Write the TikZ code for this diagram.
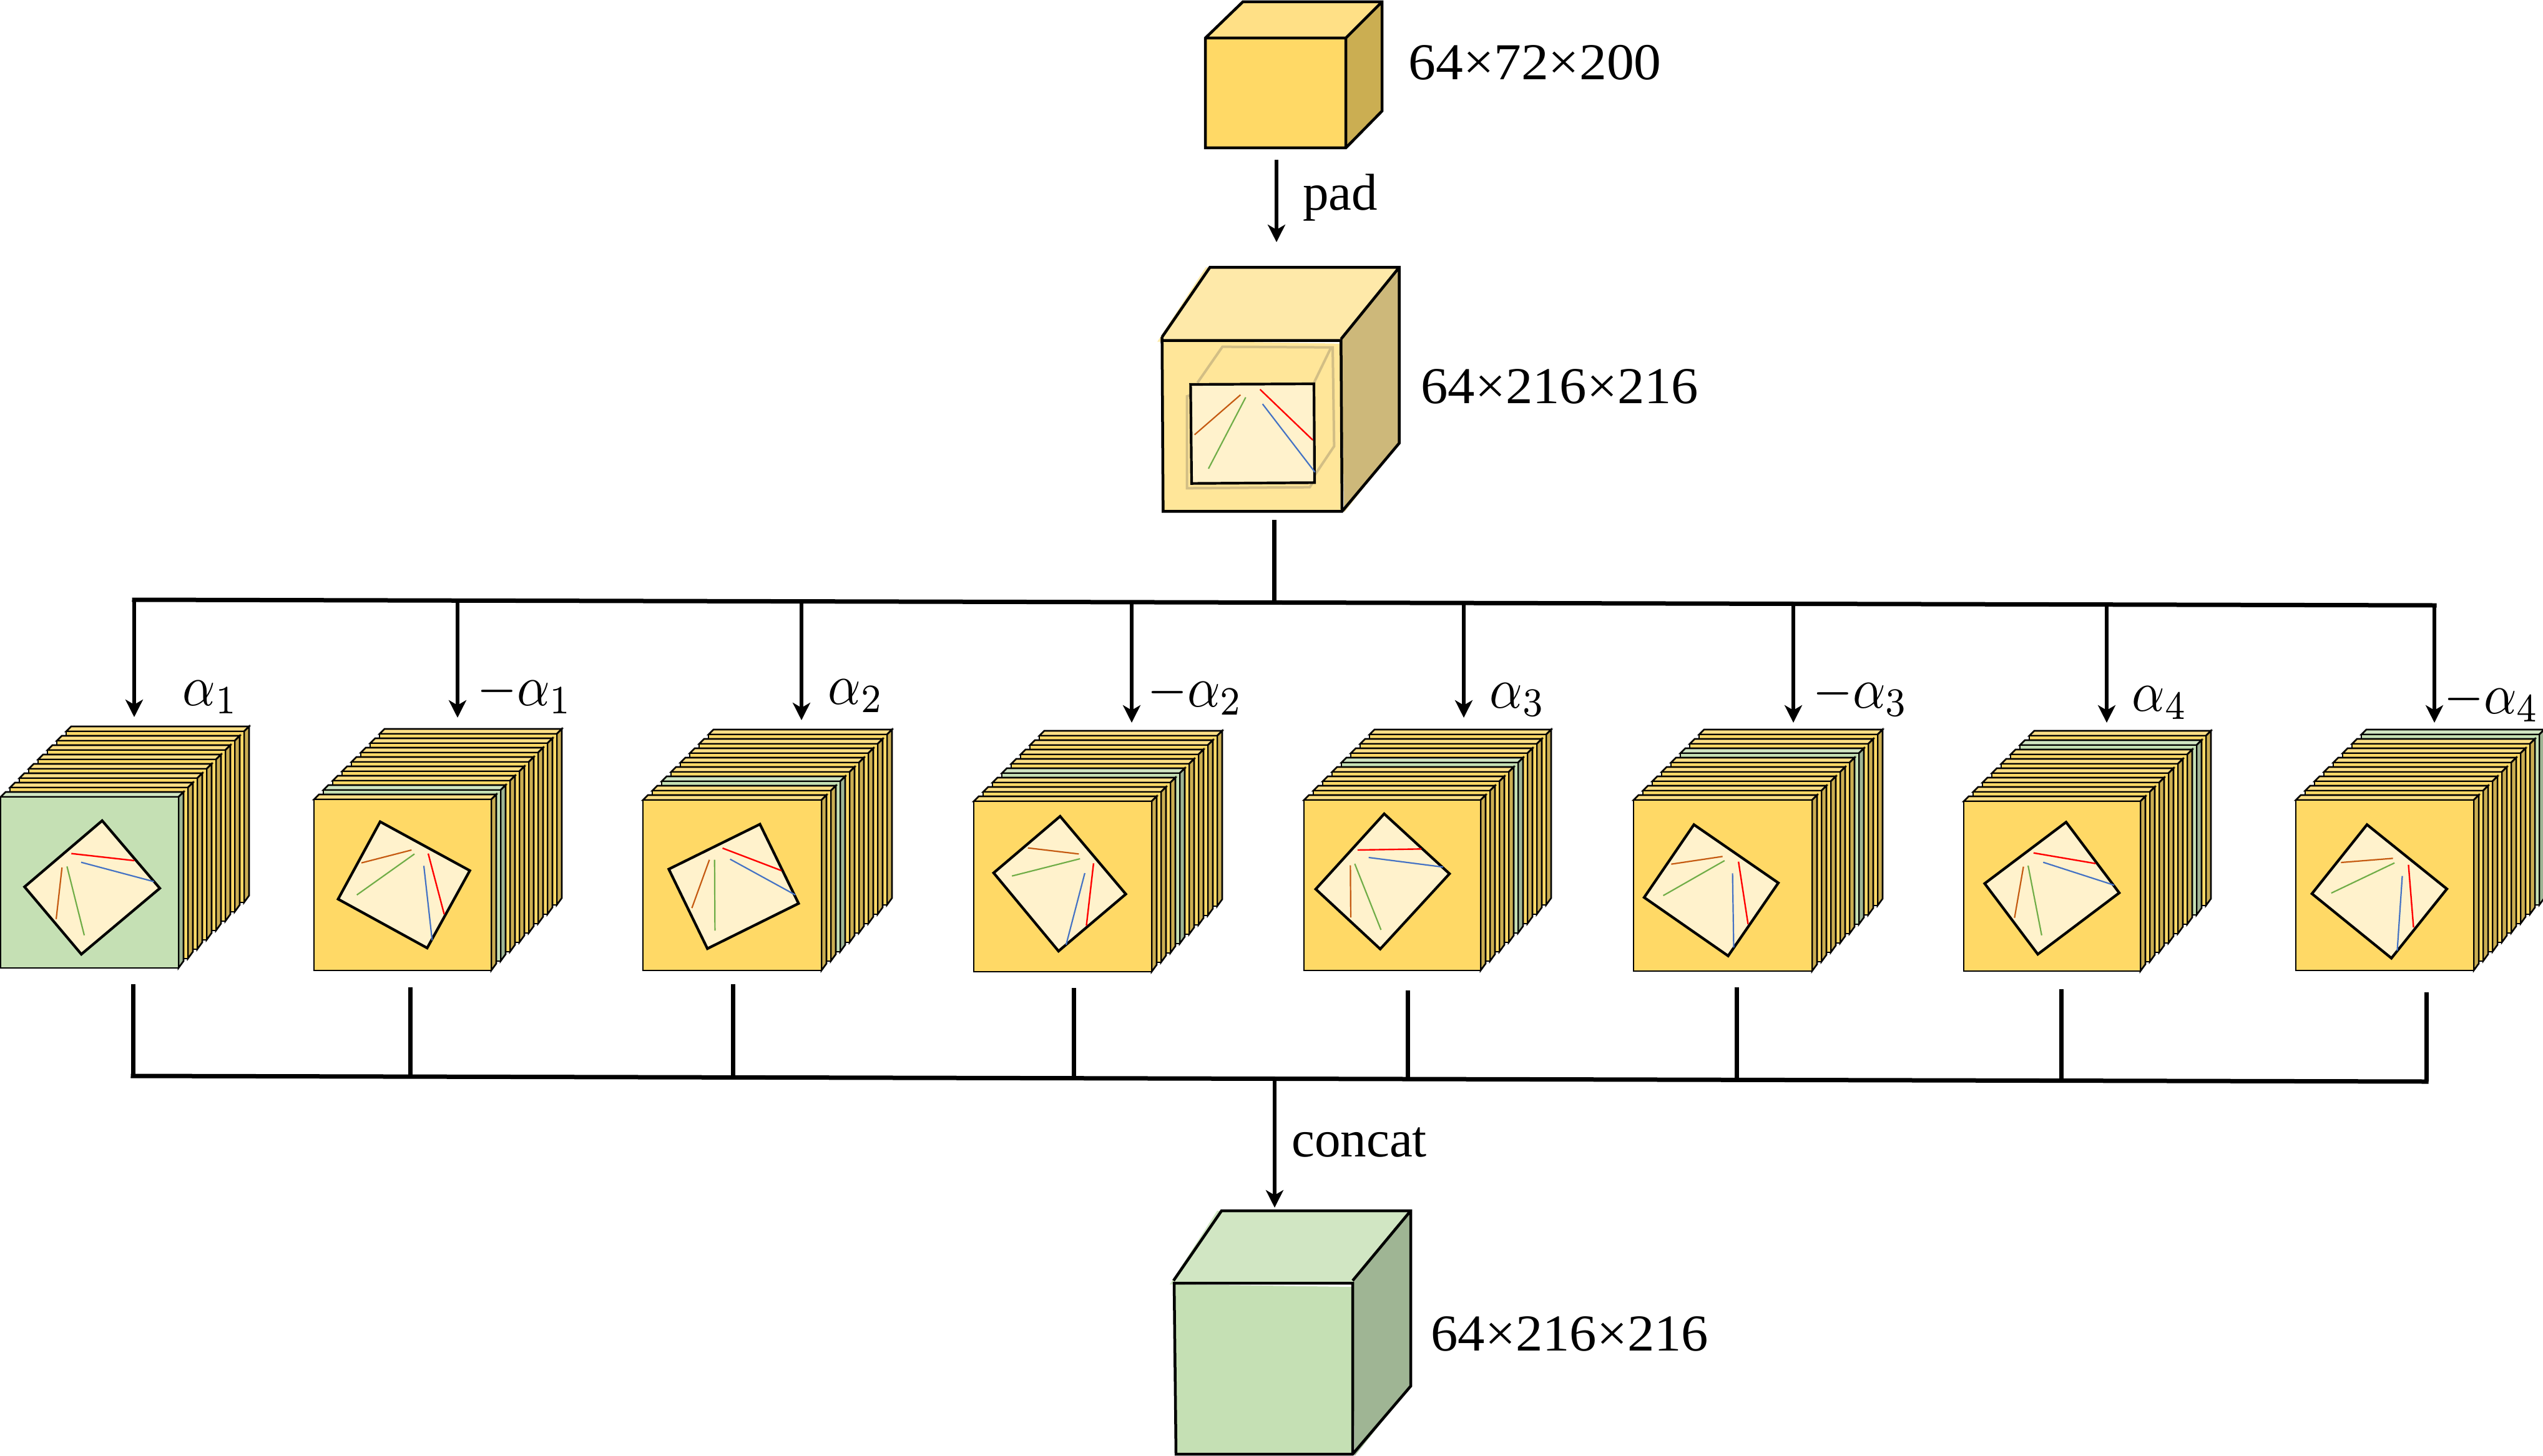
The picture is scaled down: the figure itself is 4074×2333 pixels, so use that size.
\documentclass[tikz,border=0pt]{standalone}
\usepackage{fontspec}
\setmainfont{Liberation Serif}
\usetikzlibrary{arrows.meta}
\definecolor{goldfront}{HTML}{FFD966}
\definecolor{goldtop}{HTML}{FFE086}
\definecolor{goldside}{HTML}{CBAE52}
\definecolor{leaffront}{HTML}{C5E0B4}
\definecolor{leaftop}{HTML}{D1E6C3}
\definecolor{leafside}{HTML}{9FB594}
\definecolor{palefront}{HTML}{FFE699}
\definecolor{paletop}{HTML}{FEE9A9}
\definecolor{paleside}{HTML}{CDB87A}
\definecolor{ghostline}{HTML}{D2BE85}
\definecolor{cardfill}{HTML}{FFF2CC}
\definecolor{lnred}{HTML}{FF0000}
\definecolor{lnblue}{HTML}{4472C4}
\definecolor{lnorange}{HTML}{C55A11}
\definecolor{lngreen}{HTML}{70AD47}
\tikzset{
  edgeline/.style={draw=black,line width=2.25pt,line join=miter},
  plateline/.style={draw=black,line width=1.3pt,line join=miter},
  cardbox/.style={draw=black,fill=cardfill,line width=2.1pt,line join=miter},
  redline/.style={draw=lnred,line width=1.2pt},
  blueline/.style={draw=lnblue,line width=1.1pt},
  orangeline/.style={draw=lnorange,line width=1.1pt},
  greenline/.style={draw=lngreen,line width=1.1pt},
  busline/.style={draw=black,line width=3.5pt,line cap=rect},
  stubline/.style={draw=black,line width=3.5pt},
  flowarrow/.style={draw=black,line width=3.2pt,-{Stealth[length=14pt,width=14pt,inset=4pt]}},
  sizelabel/.style={anchor=base west,inner sep=0pt,font=\fontsize{41.5}{50}\selectfont},
  anglelabel/.style={anchor=base west,inner sep=0pt,xscale=4.1,yscale=4.6},
  z1/.style={shift={(0,1130)},xscale=0.33333,yscale=0.33333},
  z2/.style={shift={(480,1130)},xscale=0.33333,yscale=0.33333},
  z3/.style={shift={(1000,1130)},xscale=0.63776,yscale=0.33333},
  z5/.style={shift={(2060,1130)},xscale=0.63776,yscale=0.33333},
  z7/.style={shift={(3100,1130)},xscale=0.62117,yscale=0.33333},
  zp/.style={shift={(1780,400)},xscale=0.33333,yscale=0.33333},
}
% stack of eight plates: x, y, width, height, index of the green plate
\newcommand{\plates}[5]{%
  \foreach \i in {7,6,5,4,3,2,1,0}{%
    \ifnum\i=#5\relax
      \def\cf{leaffront}\def\ct{leaftop}\def\cs{leafside}%
    \else
      \def\cf{goldfront}\def\ct{goldtop}\def\cs{goldside}%
    \fi
    \pgfmathsetmacro{\px}{#1+15*\i}
    \pgfmathsetmacro{\py}{#2-15*\i}
    \begin{scope}[shift={(\px,\py)}]
      \draw[plateline,fill=\ct] (0,0) -- (8,-8) -- (#3+8,-8) -- (#3,0) -- cycle;
      \draw[plateline,fill=\cs] (#3,0) -- (#3+8,-8) -- (#3+8,#4-11) -- (#3,#4) -- cycle;
      \draw[plateline,fill=\cf] (0,0) rectangle (#3,#4);
    \end{scope}
  }%
}
\newcommand{\tiltcard}[6]{%
  \begin{scope}[#1]
    \draw[cardbox] #2 -- cycle;
    \draw[redline] #3;
    \draw[blueline] #4;
    \draw[orangeline] #5;
    \draw[greenline] #6;
  \end{scope}%
}
\begin{document}
\begin{tikzpicture}[x=0.5pt,y=-0.5pt]
\useasboundingbox (0,0) rectangle (4074,2333);

% top cube
\fill[goldtop] (1931,61) -- (1991,3) -- (2214,3) -- (2156,61) -- cycle;
\fill[goldside] (2156,61) -- (2214,3) -- (2214,178) -- (2156,237) -- cycle;
\fill[goldfront] (1931,61) rectangle (2156,237);
\draw[edgeline] (1931,61) -- (1991,3) -- (2214,3) -- (2214,178) -- (2156,237) -- (1931,237) -- cycle
  (1931,61) -- (2156,61) -- (2156,237) (2156,61) -- (2214,3);
\node[sizelabel,xscale=1.055] (topsize) at (2256,128) {64×72×200};

% pad arrow
\coordinate (padstart) at (2045,256);
\coordinate (padend) at (2045,388);
\draw[flowarrow] (padstart) -- (padend);
\node[sizelabel] (padlabel) at (2087,336) {pad};

% padded cube
\begin{scope}[zp]
  \fill[paletop] (222,443) -- (455,85) -- (1385,85) -- (1105,437) -- cycle;
  \fill[paleside] (1105,430) -- (1385,85) -- (1385,930) -- (1120,1262) -- cycle;
  \fill[palefront] (248,437) -- (1100,452) -- (1108,1258) -- (250,1258) -- cycle;
  \draw[draw=ghostline,line width=2pt,line join=miter]
    (415,640) -- (535,467) -- (1065,470) -- (1072,945) -- (978,1085)
    (1055,475) -- (975,640)
    (380,700) -- (365,705) -- (365,1147) -- (955,1142) -- (978,1105);
  \draw[edgeline] (245,420) -- (475,85) -- (1385,85) -- (1385,930) -- (1110,1258) -- (250,1258) -- (245,420) -- (245,437) -- (1105,437) -- (1110,1258)
    (1105,430) -- (1385,85);
\end{scope}
\tiltcard{zp}{(382,648) -- (975,645) -- (978,1120) -- (387,1124)}{(716,672) -- (969,915)}{(728,742) -- (980,1070)}{(622,698) -- (401,890)}{(647,710) -- (468,1053)}
\node[sizelabel,xscale=1.045] (midsize) at (2276,646) {64×216×216};

% upper bus
\coordinate (padout) at (2041,833);
\coordinate (busmid) at (2041,965.5);
\coordinate (bt1) at (215,961);
\coordinate (bt2) at (733,962);
\coordinate (bt3) at (1284,963.6);
\coordinate (bt4) at (1813,964.9);
\coordinate (bt5) at (2345,966.2);
\coordinate (bt6) at (2873,967.5);
\coordinate (bt7) at (3375,968.7);
\coordinate (bt8) at (3900,970);
\coordinate (at1) at (215,1149);
\coordinate (at2) at (733,1150);
\coordinate (at3) at (1284,1154);
\coordinate (at4) at (1813,1158);
\coordinate (at5) at (2345,1150);
\coordinate (at6) at (2873,1158);
\coordinate (at7) at (3375,1158);
\coordinate (at8) at (3900,1158);
\draw[stubline] (padout) -- (busmid);
\foreach \k in {1,...,8}{\draw[flowarrow] (bt\k) -- (at\k);}
\draw[busline] (bt1) -- (bt8);

% angle labels
\node[anglelabel] (ang1) at (291,1130) {$\alpha_1$};
\node[anglelabel] (ang2) at (763,1130) {$-\alpha_1$};
\node[anglelabel] (ang3) at (1325,1128) {$\alpha_2$};
\node[anglelabel] (ang4) at (1837,1132) {$-\alpha_2$};
\node[anglelabel] (ang5) at (2385,1134) {$\alpha_3$};
\node[anglelabel] (ang6) at (2903,1134) {$-\alpha_3$};
\node[anglelabel] (ang7) at (3414,1139) {$\alpha_4$};
\node[anglelabel] (ang8) at (3914,1143) {$-\alpha_4$};

% stacks
\plates{1}{1277}{285}{274}{0}
\tiltcard{z1}{(491,555) -- (768,880) -- (391,1197) -- (118,873)}{(343,713) -- (646,747)}{(390,755) -- (740,848)}{(298,780) -- (270,1028)}{(322,775) -- (405,1106)}
\plates{503}{1281}{284}{274}{1}
\tiltcard{z2}{(387,560) -- (818,795) -- (613,1167) -- (185,932)}{(618,713) -- (695,1005)}{(597,772) -- (637,1130)}{(297,758) -- (538,696)}{(275,912) -- (552,715)}
\plates{1030}{1282}{286}{273}{2}
\tiltcard{z3}{(341,572) -- (438,953) -- (209,1170) -- (112,788)}{(247,687) -- (395,795)}{(266,740) -- (430,912)}{(214,743) -- (170,975)}{(227,743) -- (228,1083)}
\plates{1560}{1284}{285}{273}{3}
\tiltcard{z3}{(1095,534) -- (1260,908) -- (1091,1182) -- (928,806)}{(1179,760) -- (1161,1060)}{(1157,807) -- (1110,1152)}{(1014,686) -- (1142,715)}{(974,821) -- (1145,738)}
\plates{2089}{1282}{283}{273}{4}
\tiltcard{z5}{(247,522) -- (411,810) -- (237,1172) -- (75,884)}{(180,696) -- (340,691)}{(208,732) -- (395,778)}{(162,770) -- (163,1020)}{(173,762) -- (239,1080)}
\plates{2617}{1282}{286}{274}{5}
\tiltcard{z5}{(1025,574) -- (1237,854) -- (1111,1205) -- (900,924)}{(1137,752) -- (1161,1052)}{(1122,808) -- (1125,1165)}{(968,764) -- (1097,727)}{(948,915) -- (1102,747)}
\plates{3146}{1284}{283}{272}{6}
\tiltcard{z7}{(338,562) -- (475,902) -- (265,1197) -- (128,857)}{(254,710) -- (414,761)}{(279,755) -- (462,865)}{(228,776) -- (205,1022)}{(240,771) -- (275,1106)}
\plates{3678}{1282}{285}{273}{7}
\tiltcard{z7}{(1114,574) -- (1320,883) -- (1177,1216) -- (972,906)}{(1221,767) -- (1234,1068)}{(1205,821) -- (1192,1180)}{(1047,756) -- (1181,736)}{(1022,903) -- (1185,758)}

% lower bus
\coordinate (st1) at (213,1577);
\coordinate (st2) at (657,1582);
\coordinate (st3) at (1174,1577);
\coordinate (st4) at (1720,1583);
\coordinate (st5) at (2255,1587);
\coordinate (st6) at (2782,1582);
\coordinate (st7) at (3302,1585);
\coordinate (st8) at (3887,1590);
\coordinate (sb1) at (213,1724);
\coordinate (sb2) at (657,1725);
\coordinate (sb3) at (1174,1726.4);
\coordinate (sb4) at (1720,1727.7);
\coordinate (sb5) at (2255,1729);
\coordinate (sb6) at (2782,1730.3);
\coordinate (sb7) at (3302,1731.6);
\coordinate (sb8) at (3887,1733);
\foreach \k in {1,...,8}{\draw[stubline] (st\k) -- (sb\k);}
\draw[busline] (sb1) -- (sb8);

% concat arrow
\coordinate (concatstart) at (2042,1728.5);
\coordinate (concatend) at (2042,1935);
\draw[flowarrow] (concatstart) -- (concatend);
\node[sizelabel] (concatlabel) at (2069,1853) {concat};

% bottom cube
\fill[leaftop] (1874,2058) -- (1950,1940) -- (2260,1940) -- (2167,2056) -- cycle;
\fill[leafside] (2167,2056) -- (2260,1940) -- (2260,2221) -- (2170,2333) -- cycle;
\fill[leaffront] (1882,2058) -- (2165,2062) -- (2167,2330) -- (1882,2330) -- cycle;
\draw[edgeline] (1880,2052) -- (1957,1940) -- (2260,1940) -- (2260,2221) -- (2167,2330) -- (1884,2330) -- (1881,2056) -- (2167,2056) -- (2167,2330)
  (2167,2052) -- (2260,1940);
\node[sizelabel,xscale=1.045] (botsize) at (2292,2164) {64×216×216};
\end{tikzpicture}
\end{document}
